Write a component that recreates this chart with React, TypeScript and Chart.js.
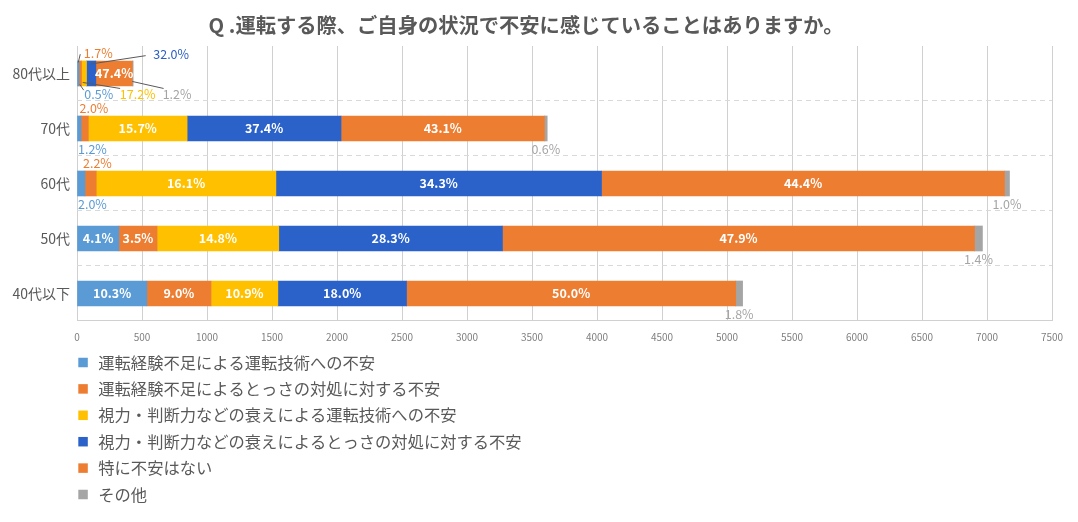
import React, { useEffect, useRef } from "react";
import { Chart, registerables } from "chart.js";

Chart.register(...registerables);

const FONT = '"Noto Sans CJK JP", "Noto Sans", sans-serif';

const TITLE = "Q .運転する際、ご自身の状況で不安に感じていることはありますか。";

const categories = ["80代以上", "70代", "60代", "50代", "40代以下"];

const seriesNames = [
  "運転経験不足による運転技術への不安",
  "運転経験不足によるとっさの対処に対する不安",
  "視力・判断力などの衰えによる運転技術への不安",
  "視力・判断力などの衰えによるとっさの対処に対する不安",
  "特に不安はない",
  "その他",
];

// bar lengths (respondent counts)
const lackSkill = [15, 31, 61, 322, 537];
const lackReaction = [20, 56, 87, 294, 494];
const declineSkill = [38, 760, 1382, 936, 514];
const declineReaction = [72, 1184, 2505, 1721, 990];
const noAnxiety = [280, 1565, 3100, 3631, 2532];
const other = [7, 21, 38, 61, 53];

// percentage labels shown on the bars
const lackSkillPct = ["0.5%", "1.2%", "2.0%", "4.1%", "10.3%"];
const lackReactionPct = ["1.7%", "2.0%", "2.2%", "3.5%", "9.0%"];
const declineSkillPct = ["17.2%", "15.7%", "16.1%", "14.8%", "10.9%"];
const declineReactionPct = ["32.0%", "37.4%", "34.3%", "28.3%", "18.0%"];
const noAnxietyPct = ["47.4%", "43.1%", "44.4%", "47.9%", "50.0%"];
const otherPct = ["1.2%", "0.6%", "1.0%", "1.4%", "1.8%"];

const xTickValues = [0, 500, 1000, 1500, 2000, 2500, 3000, 3500, 4000, 4500, 5000, 5500, 6000, 6500, 7000, 7500];

const seriesValues = [lackSkill, lackReaction, declineSkill, declineReaction, noAnxiety, other];
const seriesPcts = [lackSkillPct, lackReactionPct, declineSkillPct, declineReactionPct, noAnxietyPct, otherPct];

const seriesColors = ["#5B9BD5", "#ED7D31", "#FFC000", "#2A62C9", "#ED7D31", "#A5A5A5"];
const labelColors = ["#5B9BD5", "#ED7D31", "#FFC000", "#2A5EC4", "#ED7D31", "#A5A5A5"];
const defaultOutside = ["below", "above", "below", "above", "below", "below"];

type Place = {
  mode?: "in" | "above" | "below" | "callout";
  dx?: number;
  dy?: number;
  ax?: number;
  ay?: number;
  lx?: number;
  ly?: number;
};

const placements: Record<string, Place> = {
  "0-0": { mode: "callout", dx: 20.5, dy: 21, ax: 1.5, ay: 11, lx: -15, ly: -4.3 },
  "1-0": { mode: "callout", dx: 18, dy: -20, ax: -2, ay: -11, lx: -18, ly: 0.7 },
  "2-0": { mode: "callout", dx: 53.7, dy: 21, ax: -1.3, ay: 9, lx: -17.6, ly: -6 },
  "3-0": { mode: "callout", dx: 80, dy: -19.5, ax: 0, ay: -9.5, lx: -25.5, ly: 1.7 },
  "4-0": { mode: "in" },
  "5-0": { mode: "callout", dx: 44.4, dy: 21, ax: -0.4, ay: 8, lx: -13.5, ly: -6 },
  "1-1": { mode: "above", dx: 1.5 },
  "1-2": { mode: "above", dx: 5 },
};

const IN_FONT = `bold 12.5px ${FONT}`;
const OUT_FONT = `12.5px ${FONT}`;

const labelPlugin = {
  id: "segLabels",
  afterDatasetsDraw(chart: any) {
    const ctx = chart.ctx as CanvasRenderingContext2D;
    const area = chart.chartArea;
    ctx.save();
    ctx.textBaseline = "middle";
    ctx.textAlign = "center";
    chart.data.datasets.forEach((_ds: any, di: number) => {
      const meta = chart.getDatasetMeta(di);
      meta.data.forEach((el: any, ci: number) => {
        const text = seriesPcts[di][ci];
        const { x, y, base, height } = el.getProps(["x", "y", "base", "height"], true);
        const left = Math.min(x, base);
        const right = Math.max(x, base);
        const segW = right - left;
        const cx = (left + right) / 2;
        const top = y - height / 2;
        const bottom = y + height / 2;
        const pl = placements[`${di}-${ci}`] || {};
        ctx.font = IN_FONT;
        const wIn = ctx.measureText(text).width;
        const mode = pl.mode || (segW >= wIn + 2 ? "in" : defaultOutside[di]);
        if (mode === "in") {
          ctx.font = IN_FONT;
          ctx.fillStyle = "#FFFFFF";
          ctx.fillText(text, cx, y);
          return;
        }
        ctx.font = OUT_FONT;
        const w = ctx.measureText(text).width;
        ctx.fillStyle = labelColors[di];
        if (mode === "callout") {
          const lcx = cx + (pl.dx || 0);
          const lcy = y + (pl.dy || 0);
          ctx.strokeStyle = "#595959";
          ctx.lineWidth = 1;
          ctx.beginPath();
          ctx.moveTo(cx + (pl.ax || 0), y + (pl.ay || 0));
          ctx.lineTo(lcx + (pl.lx || 0), lcy + (pl.ly || 0));
          ctx.stroke();
          ctx.fillText(text, lcx, lcy);
          return;
        }
        const lx = Math.max(cx, area.left + w / 2 + 1) + (pl.dx || 0);
        const ly = mode === "above" ? top - 7.5 : bottom + 8;
        ctx.fillText(text, lx, ly);
      });
    });
    ctx.restore();
  },
};

const legendPlugin = {
  id: "verticalLegend",
  afterDraw(chart: any) {
    const ctx = chart.ctx as CanvasRenderingContext2D;
    const area = chart.chartArea;
    ctx.save();
    ctx.font = `16.3px ${FONT}`;
    ctx.textBaseline = "middle";
    ctx.textAlign = "left";
    chart.data.datasets.forEach((ds: any, i: number) => {
      const cy = area.bottom + 41.5 + i * 26.4;
      ctx.fillStyle = ds.backgroundColor;
      ctx.fillRect(area.left + 1.3, cy - 4.75, 9.5, 9.5);
      ctx.fillStyle = "#595959";
      ctx.fillText(ds.label, area.left + 21.3, cy);
    });
    ctx.restore();
  },
};

export default function App() {
  const ref = useRef<HTMLCanvasElement>(null);

  useEffect(() => {
    document.body.style.margin = "0";
    const canvas = ref.current;
    if (!canvas) return;
    const datasets = seriesValues.map((vals, i) => ({
      label: seriesNames[i],
      data: vals,
      backgroundColor: seriesColors[i],
      borderWidth: 0,
      barThickness: 25,
    }));
    const chart = new Chart(canvas, {
      type: "bar",
      data: { labels: categories, datasets },
      options: {
        indexAxis: "y",
        responsive: false,
        maintainAspectRatio: false,
        animation: false,
        layout: { padding: { left: 0, right: 26, top: 0, bottom: 171 } },
        plugins: {
          legend: { display: false },
          tooltip: { enabled: false },
          title: {
            display: true,
            text: TITLE,
            color: "#595959",
            font: { family: FONT, size: 20.3, weight: "bold", lineHeight: 1.2 },
            padding: { top: 13.5, bottom: 8.1 },
          },
        },
        scales: {
          x: {
            stacked: true,
            min: 0,
            max: 7500,
            afterBuildTicks: (scale: any) => {
              scale.ticks = xTickValues.map((v) => ({ value: v }));
            },
            afterFit: (scale: any) => {
              scale.height = 30;
            },
            ticks: {
              color: "#7F7F7F",
              font: { family: FONT, size: 10 },
              padding: 10,
              maxRotation: 0,
              autoSkip: false,
              callback: (v: any) => String(v),
            },
            grid: { color: "#D0D0D0", lineWidth: 1, drawTicks: false },
            border: { display: true, color: "#D0D0D0", width: 1 },
          },
          y: {
            stacked: true,
            afterFit: (scale: any) => {
              scale.width = 77;
            },
            ticks: {
              color: "#595959",
              font: { family: FONT, size: 14 },
              padding: 7,
            },
            grid: {
              offset: true,
              drawTicks: false,
              lineWidth: 1,
              color: (c: any) => (c.type === "tick" && c.index > 0 ? "#D9D9D9" : "rgba(0,0,0,0)"),
            },
            border: { display: false, dash: [5, 4] },
          },
        },
      },
      plugins: [labelPlugin, legendPlugin],
    } as any);
    return () => chart.destroy();
  }, []);

  return (
    <div style={{ position: "absolute", left: 0, top: 0, width: 1078, height: 522, background: "#FFFFFF" }}>
      <canvas ref={ref} width={1078} height={522} style={{ display: "block" }} />
    </div>
  );
}
